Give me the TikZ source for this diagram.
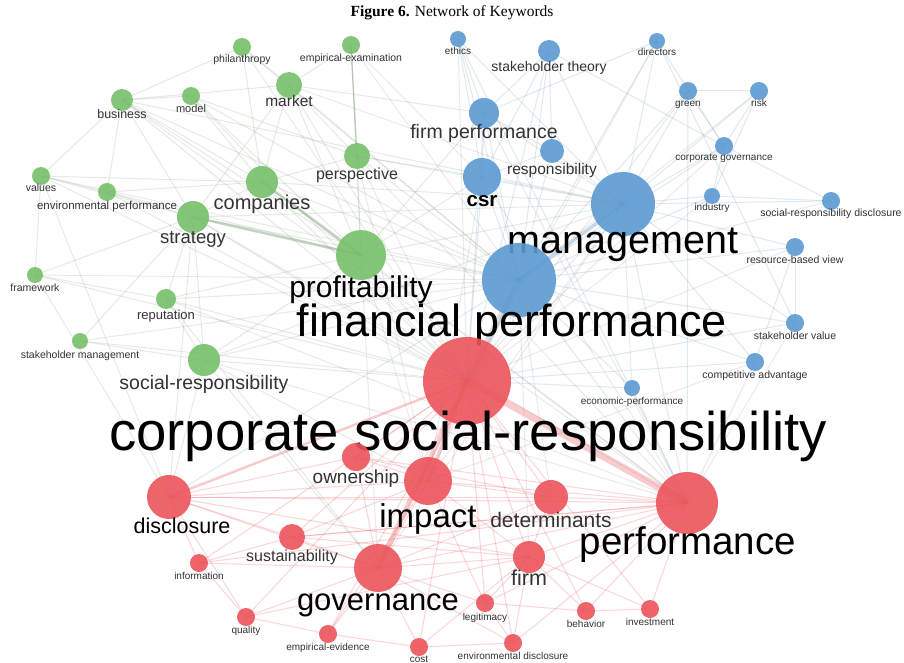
\documentclass[tikz,border=0pt]{standalone}
\usepackage{fontspec}
\setsansfont{Liberation Sans}
\newfontfamily\capfont{Liberation Serif}
\usetikzlibrary{backgrounds}

\definecolor{kwgreen}{RGB}{118,192,106}
\definecolor{kwblue}{RGB}{92,154,210}
\definecolor{kwred}{RGB}{236,84,92}

\tikzset{
  kw/.style={circle, inner sep=0pt, draw=none, fill opacity=0.9},
  grn/.style={kw, fill=kwgreen},
  blu/.style={kw, fill=kwblue},
  rd/.style={kw, fill=kwred},
  sz/.style={font=\sffamily\fontsize{#1}{#1}\selectfont},
  tag/.style={anchor=base, inner sep=0pt, text=black!80, sz=#1},
  bigtag/.style={anchor=base, inner sep=0pt, text=black, sz=#1},
  ge/.style={draw=kwgreen!45!gray, opacity=0.2, line width=1pt},
  be/.style={draw=kwblue!70!gray, opacity=0.2, line width=1pt},
  re/.style={draw=kwred, opacity=0.24, line width=1pt},
  gy/.style={draw=gray, opacity=0.16, line width=1pt}
}

\begin{document}
\begin{tikzpicture}[x=1pt,y=-1pt]
\useasboundingbox (0,0) rectangle (904,663);

\node[font=\capfont\fontsize{15.5}{15.5}\selectfont] (title) at (452,13) {\textbf{Figure 6.} Network of Keywords};

% green cluster
\node[grn, minimum size=18pt] (phil) at (242,47) {};
\node[tag=10.5] (phil-t) at (242,63) {philanthropy};
\node[grn, minimum size=18pt] (empexam) at (351,45) {};
\node[tag=10.5] (empexam-t) at (351,62) {empirical-examination};
\node[grn, minimum size=22pt] (business) at (122,100) {};
\node[tag=12.5] (business-t) at (122,119) {business};
\node[grn, minimum size=18pt] (model) at (191,96) {};
\node[tag=11] (model-t) at (191,113) {model};
\node[grn, minimum size=26pt] (market) at (289,85) {};
\node[tag=15.5] (market-t) at (289,107) {market};
\node[grn, minimum size=18pt] (values) at (41,176) {};
\node[tag=10.5] (values-t) at (41,191) {values};
\node[grn, minimum size=18pt] (envperf) at (107,192) {};
\node[tag=11.5] (envperf-t) at (107,209) {environmental performance};
\node[grn, minimum size=32pt] (companies) at (262,182) {};
\node[tag=20] (companies-t) at (262,209) {companies};
\node[grn, minimum size=26pt] (perspective) at (357,156) {};
\node[tag=16] (perspective-t) at (357,179) {perspective};
\node[grn, minimum size=32pt] (strategy) at (193,217) {};
\node[tag=18.5] (strategy-t) at (193,243) {strategy};
\node[grn, minimum size=16pt] (framework) at (35,275) {};
\node[tag=10.5] (framework-t) at (35,291) {framework};
\node[grn, minimum size=20pt] (reputation) at (166,299) {};
\node[tag=13] (reputation-t) at (166,319) {reputation};
\node[grn, minimum size=16pt] (shmgmt) at (80,341) {};
\node[tag=10.5] (shmgmt-t) at (80,358) {stakeholder management};
\node[grn, minimum size=32pt] (socresp) at (204,360) {};
\node[tag=19.5] (socresp-t) at (204,389) {social-responsibility};
\node[grn, minimum size=50pt] (profit) at (361,255) {};
\node[bigtag=30] (profit-t) at (361,297) {profitability};

% blue cluster
\node[blu, minimum size=16pt] (ethics) at (458,39) {};
\node[tag=10] (ethics-t) at (458,55) {ethics};
\node[blu, minimum size=22pt] (shtheory) at (549,51) {};
\node[tag=14] (shtheory-t) at (549,72) {stakeholder theory};
\node[blu, minimum size=16pt] (directors) at (657,41) {};
\node[tag=10] (directors-t) at (657,56) {directors};
\node[blu, minimum size=18pt] (green) at (688,91) {};
\node[tag=10] (green-t) at (688,107) {green};
\node[blu, minimum size=18pt] (risk) at (759,91) {};
\node[tag=10] (risk-t) at (759,107) {risk};
\node[blu, minimum size=30pt] (firmperf) at (484,113) {};
\node[tag=19.5] (firmperf-t) at (484,139) {firm performance};
\node[blu, minimum size=24pt] (resp) at (552,151) {};
\node[tag=15.5] (resp-t) at (552,175) {responsibility};
\node[blu, minimum size=18pt] (corpgov) at (724,146) {};
\node[tag=10] (corpgov-t) at (724,161) {corporate governance};
\node[blu, minimum size=38pt] (csr) at (482,177) {};
\node[bigtag=20.5, font=\sffamily\bfseries\fontsize{20.5}{20.5}\selectfont] (csr-t) at (482,206) {csr};
\node[blu, minimum size=64pt] (mgmt) at (623,204) {};
\node[bigtag=39.5] (mgmt-t) at (623,253) {management};
\node[blu, minimum size=16pt] (industry) at (712,196) {};
\node[tag=10] (industry-t) at (712,211) {industry};
\node[blu, minimum size=18pt] (srdisc) at (831,201) {};
\node[tag=10.5] (srdisc-t) at (831,216) {social-responsibility disclosure};
\node[blu, minimum size=18pt] (rbv) at (795,247) {};
\node[tag=10.5] (rbv-t) at (795,263) {resource-based view};
\node[blu, minimum size=74pt] (finperf) at (519,280) {};
\node[bigtag=45] (finperf-t) at (512,336) {financial performance};
\node[blu, minimum size=18pt] (shvalue) at (795,323) {};
\node[tag=10.5] (shvalue-t) at (795,339) {stakeholder value};
\node[blu, minimum size=18pt] (compadv) at (755,362) {};
\node[tag=10.5] (compadv-t) at (755,378) {competitive advantage};
\node[blu, minimum size=16pt] (econperf) at (632,388) {};
\node[tag=10] (econperf-t) at (632,404) {economic-performance};

% red cluster
\node[rd, minimum size=88pt] (corpsr) at (467,381) {};
\node[bigtag=54.5] (corpsr-t) at (468,450) {corporate social-responsibility};
\node[rd, minimum size=28pt] (ownership) at (356,457) {};
\node[tag=19] (ownership-t) at (356,483) {ownership};
\node[rd, minimum size=48pt] (impact) at (428,481) {};
\node[bigtag=33] (impact-t) at (428,527) {impact};
\node[rd, minimum size=34pt] (determ) at (551,497) {};
\node[tag=21] (determ-t) at (551,527) {determinants};
\node[rd, minimum size=44pt] (disclosure) at (169,497) {};
\node[bigtag=21.5] (disclosure-t) at (182,533) {disclosure};
\node[rd, minimum size=62pt] (perf) at (687,503) {};
\node[bigtag=38.5] (perf-t) at (688,554) {performance};
\node[rd, minimum size=26pt] (sustain) at (292,537) {};
\node[tag=16] (sustain-t) at (292,561) {sustainability};
\node[rd, minimum size=18pt] (info) at (199,563) {};
\node[tag=10] (info-t) at (199,579) {information};
\node[rd, minimum size=48pt] (governance) at (378,568) {};
\node[bigtag=31] (governance-t) at (378,610) {governance};
\node[rd, minimum size=32pt] (firm) at (529,557) {};
\node[tag=21.5] (firm-t) at (529,585) {firm};
\node[rd, minimum size=18pt] (quality) at (246,617) {};
\node[tag=10] (quality-t) at (246,633) {quality};
\node[rd, minimum size=18pt] (empev) at (328,634) {};
\node[tag=10] (empev-t) at (328,650) {empirical-evidence};
\node[rd, minimum size=18pt] (cost) at (419,647) {};
\node[tag=10] (cost-t) at (419,662) {cost};
\node[rd, minimum size=18pt] (legit) at (485,603) {};
\node[tag=10] (legit-t) at (485,620) {legitimacy};
\node[rd, minimum size=18pt] (behavior) at (586,611) {};
\node[tag=10] (behavior-t) at (586,627) {behavior};
\node[rd, minimum size=18pt] (invest) at (650,609) {};
\node[tag=10] (invest-t) at (650,625) {investment};
\node[rd, minimum size=18pt] (envdisc) at (513,643) {};
\node[tag=10] (envdisc-t) at (513,659) {environmental disclosure};

\begin{scope}[on background layer]
\fill[white] (0,0) rectangle (904,663);
% links, drawn centre to centre
\foreach \a/\b in {business/model, business/market, business/companies, business/strategy,
  business/values, business/profit, business/finperf, business/envperf, business/corpsr,
  business/phil, phil/market, phil/companies, empexam/profit, empexam/market,
  market/companies, market/profit, market/strategy, market/corpsr, market/finperf,
  model/companies, model/finperf, model/profit, values/envperf, values/strategy,
  values/companies, values/framework, values/corpsr, envperf/strategy, envperf/companies,
  envperf/corpsr, envperf/profit, companies/strategy, companies/corpsr, companies/finperf,
  companies/perspective, perspective/profit, perspective/finperf, perspective/csr,
  strategy/corpsr, strategy/finperf, strategy/socresp, strategy/reputation,
  strategy/disclosure, framework/strategy, framework/corpsr, framework/reputation,
  reputation/socresp, reputation/corpsr, reputation/finperf, reputation/profit,
  shmgmt/socresp, shmgmt/corpsr, shmgmt/strategy, socresp/profit, socresp/corpsr,
  socresp/finperf, socresp/disclosure, socresp/governance, profit/finperf, profit/corpsr,
  profit/mgmt, profit/csr, profit/firmperf, market/firmperf, business/mgmt,
  companies/mgmt, strategy/perf, values/disclosure, framework/disclosure,
  reputation/governance, socresp/impact, model/perspective}
  \draw[ge] (\a.center) -- (\b.center);
% cross-cluster links
\foreach \a/\b in {phil/finperf, empexam/csr, business/perf, values/finperf,
  framework/finperf, shmgmt/finperf, reputation/perf, strategy/mgmt, market/mgmt,
  perspective/mgmt, perspective/corpsr, model/corpsr, companies/perf, socresp/perf,
  profit/perf, profit/impact, profit/governance, socresp/mgmt, ethics/corpsr,
  directors/corpsr, green/corpsr, risk/finperf, corpgov/corpsr, rbv/corpsr,
  industry/corpsr, srdisc/finperf, econperf/mgmt, shvalue/perf, compadv/impact,
  finperf/determ, finperf/firm, firmperf/perf, csr/perf, csr/impact, mgmt/impact,
  mgmt/governance, empexam/finperf, phil/corpsr, market/perf, perspective/impact}
  \draw[gy] (\a.center) -- (\b.center);
\draw[ge, opacity=0.5, line width=1.2pt] (empexam.center) -- (perspective.center);
\draw[ge, opacity=0.45, line width=2.4pt] (companies.center) -- (profit.center);
\draw[ge, opacity=0.45, line width=2.4pt] (strategy.center) -- (profit.center);
\foreach \a/\b in {ethics/csr, ethics/firmperf, ethics/mgmt, ethics/finperf,
  shtheory/firmperf, shtheory/mgmt, shtheory/csr, shtheory/finperf, shtheory/resp,
  shtheory/corpgov, directors/mgmt, directors/firmperf, directors/corpgov,
  directors/finperf, green/mgmt, green/risk, green/corpgov, green/finperf,
  risk/corpgov, risk/mgmt, risk/industry, firmperf/csr, firmperf/mgmt,
  firmperf/finperf, firmperf/corpsr, firmperf/resp, resp/mgmt, resp/csr, resp/finperf,
  corpgov/mgmt, corpgov/srdisc, corpgov/industry, corpgov/finperf, csr/mgmt,
  csr/finperf, csr/corpsr, mgmt/industry, mgmt/rbv, mgmt/shvalue, mgmt/corpsr,
  mgmt/srdisc, mgmt/compadv, mgmt/perf, industry/finperf, industry/srdisc,
  rbv/finperf, rbv/compadv, rbv/shvalue, shvalue/finperf, shvalue/corpsr,
  compadv/finperf, compadv/corpsr, compadv/perf, econperf/finperf, econperf/corpsr,
  econperf/perf, finperf/perf, finperf/impact, finperf/governance, finperf/disclosure,
  shtheory/corpsr, directors/shvalue, ethics/perf, green/perf}
  \draw[be] (\a.center) -- (\b.center);
\draw[be, opacity=0.35, line width=3.5pt] (mgmt.center) -- (finperf.center);
\draw[gy, opacity=0.25, line width=6pt] (corpsr.center) -- (finperf.center);
\foreach \a/\b in {corpsr/ownership, corpsr/determ, corpsr/firm, corpsr/sustain,
  corpsr/info, corpsr/legit, corpsr/behavior, corpsr/invest, corpsr/quality,
  corpsr/empev, corpsr/cost, corpsr/envdisc, disclosure/perf, disclosure/impact,
  disclosure/ownership, disclosure/sustain, disclosure/info, disclosure/governance,
  disclosure/determ, disclosure/quality, disclosure/firm, impact/perf,
  impact/governance, impact/determ, impact/ownership, impact/firm, impact/sustain,
  impact/legit, determ/perf, determ/governance, determ/firm, perf/governance,
  perf/firm, perf/behavior, perf/invest, perf/legit, perf/sustain, perf/envdisc,
  sustain/governance, sustain/info, sustain/firm, governance/firm, governance/quality,
  governance/empev, governance/cost, governance/legit, governance/info,
  governance/envdisc, firm/legit, firm/behavior, firm/invest, firm/cost, firm/envdisc,
  legit/behavior, legit/envdisc, behavior/invest, info/quality, quality/empev,
  empev/cost, cost/envdisc, ownership/perf, ownership/governance, ownership/determ,
  sustain/perf, info/perf, quality/firm, empev/impact}
  \draw[re] (\a.center) -- (\b.center);
\draw[re, opacity=0.3, line width=7pt] (corpsr.center) -- (perf.center);
\draw[re, opacity=0.3, line width=5pt] (corpsr.center) -- (governance.center);
\draw[re, opacity=0.3, line width=3.5pt] (corpsr.center) -- (impact.center);
\draw[re, opacity=0.3, line width=2.5pt] (corpsr.center) -- (disclosure.center);
\end{scope}
\end{tikzpicture}
\end{document}
